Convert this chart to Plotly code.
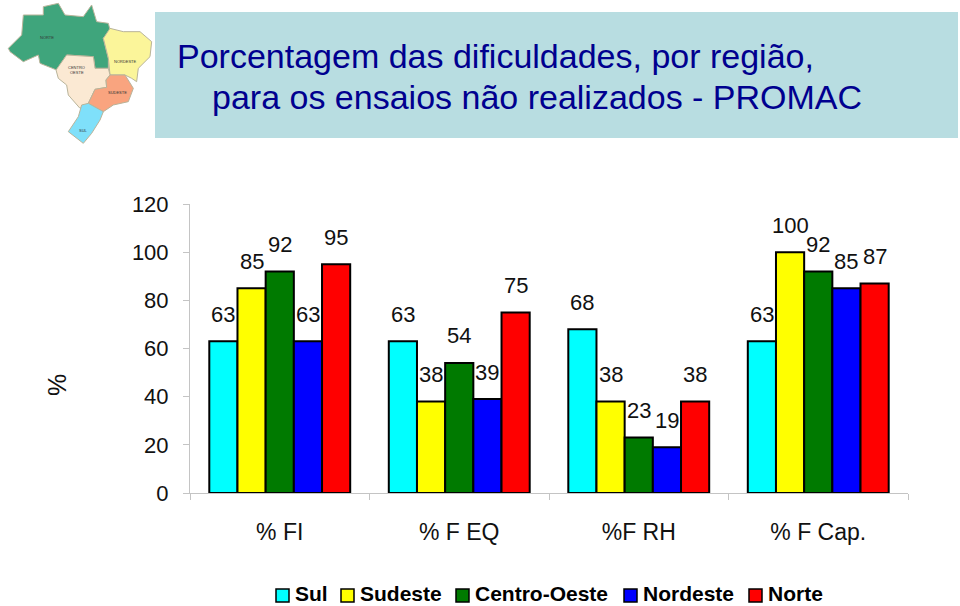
import plotly.graph_objects as go

categories = ["% FI", "% F EQ", "%F RH", "% F Cap."]
series_names = ["Sul", "Sudeste", "Centro-Oeste", "Nordeste", "Norte"]
colors = ["#00FFFF", "#FFFF00", "#007A00", "#0000FF", "#FF0000"]
sul = [63, 63, 68, 63]
sudeste = [85, 38, 38, 100]
centro_oeste = [92, 54, 23, 92]
nordeste = [63, 39, 19, 85]
norte = [95, 75, 38, 87]
all_values = [sul, sudeste, centro_oeste, nordeste, norte]
y_ticks = [0, 20, 40, 60, 80, 100, 120]

W, H = 960, 606
L, R, T, B = 190, 52, 204, 113
FONT = "Liberation Sans, Arial, sans-serif"

def px(x):
    return (x - L) / (W - L - R)

def py(y):
    return 1 - (y - T) / (H - T - B)

fig = go.Figure()
for name, vals, col in zip(series_names, all_values, colors):
    fig.add_bar(name=name, x=categories, y=vals, marker=dict(color=col, line=dict(color="#000", width=2)))

annotations = []
shapes = []

# data labels
BW = (1 - 0.215) / 5
for j, vals in enumerate(all_values):
    for i, v in enumerate(vals):
        annotations.append(dict(x=i + (j - 2) * BW, y=v, xref="x", yref="y", text=str(v), showarrow=False,
                                yanchor="middle", yshift=27, font=dict(size=22, color="#111", family=FONT)))

# title box
shapes.append(dict(type="rect", xref="paper", yref="paper", x0=px(155), x1=px(958), y0=py(138), y1=py(12),
                   fillcolor="#B8DDE1", line_width=0, layer="below"))
annotations.append(dict(xref="paper", yref="paper", x=px(175), y=py(56), text="Porcentagem das dificuldades, por região,",
                        showarrow=False, xanchor="left", yanchor="middle", font=dict(size=34, color="#00008F", family=FONT)))
annotations.append(dict(xref="paper", yref="paper", x=px(210), y=py(97), text="para os ensaios não realizados - PROMAC",
                        showarrow=False, xanchor="left", yanchor="middle", font=dict(size=34, color="#00008F", family=FONT)))

# region map (decorative)
map_regions = [
    ("#3FA57C", [(25,145),(65,105),(70,45),(130,45),(130,20),(175,10),(195,45),(250,50),(275,15),(290,65),(325,70),(330,90),(310,115),(325,175),(325,205),(285,205),(280,170),(200,165),(170,210),(120,190),(115,165),(70,185),(30,155)]),
    ("#FBF59A", [(330,85),(370,95),(420,95),(455,125),(450,170),(415,205),(410,245),(395,235),(375,225),(330,225),(325,175),(310,115)]),
    ("#FBE9D3", [(200,165),(280,170),(285,205),(325,205),(330,225),(318,240),(320,262),(285,268),(265,310),(240,325),(205,285),(200,255),(175,235),(168,210)]),
    ("#F9A47F", [(330,225),(375,225),(400,265),(385,305),(340,315),(310,335),(265,310),(285,268),(320,262),(318,240)]),
    ("#7FE0FA", [(245,315),(265,310),(310,335),(300,360),(275,400),(250,430),(205,395),(235,350)]),
]
for col, pts in map_regions:
    path = "M " + " L ".join(f"{px(a/3):.4f},{py(b/3):.4f}" for a, b in pts) + " Z"
    shapes.append(dict(type="path", xref="paper", yref="paper", path=path, fillcolor=col,
                       line=dict(color="#B9B49A", width=1), layer="below"))
map_labels = [("NORTE", 47, 33), ("NORDESTE", 125, 57), ("CENTRO", 77, 63), ("OESTE", 77, 68), ("SUDESTE", 117, 88), ("SUL", 83, 126)]
for txt, a, b in map_labels:
    annotations.append(dict(xref="paper", yref="paper", x=px(a), y=py(b), text=txt, showarrow=False, xanchor="center",
                            font=dict(size=4, color="#333", family=FONT)))

# legend
legend_pos = [(276, 293), (341, 358), (456, 473), (624, 641), (749, 766)]
for name, col, (sx, tx) in zip(series_names, colors, legend_pos):
    shapes.append(dict(type="rect", xref="paper", yref="paper", x0=px(sx), x1=px(sx + 13), y0=py(602), y1=py(589),
                       fillcolor=col, line=dict(color="#000", width=1.5)))
    annotations.append(dict(xref="paper", yref="paper", x=px(tx), y=py(593), text=name, showarrow=False,
                            xanchor="left", yanchor="middle", font=dict(size=21, color="#000", family=FONT, weight="bold")))

# axis title
annotations.append(dict(xref="paper", yref="paper", x=px(57), y=py(385), text="%", showarrow=False, textangle=-90,
                        xanchor="center", yanchor="middle", font=dict(size=25, color="#111", family=FONT)))

fig.update_layout(
    width=W, height=H, autosize=False,
    margin=dict(l=L, r=R, t=T, b=B, pad=0),
    paper_bgcolor="white", plot_bgcolor="white",
    barmode="group", bargap=0.215, bargroupgap=0, showlegend=False,
    annotations=annotations, shapes=shapes,
    xaxis=dict(type="category", showline=True, linecolor="#C4C4C4", linewidth=1, ticks="outside", ticklen=6,
               tickcolor="#C4C4C4", tickson="boundaries", showgrid=False, ticklabelstandoff=18,
               tickfont=dict(size=23, color="#111", family=FONT)),
    yaxis=dict(range=[0, 120], tickvals=y_ticks, showline=True, linecolor="#C4C4C4", linewidth=1, ticks="outside",
               ticklen=6, tickcolor="#C4C4C4", showgrid=False, zeroline=False, ticklabelstandoff=10,
               tickfont=dict(size=22, color="#111", family=FONT)),
)
fig.write_html("out.html", config={"displayModeBar": False},
               post_script="document.body.style.margin='0';document.body.style.overflow='hidden';")
